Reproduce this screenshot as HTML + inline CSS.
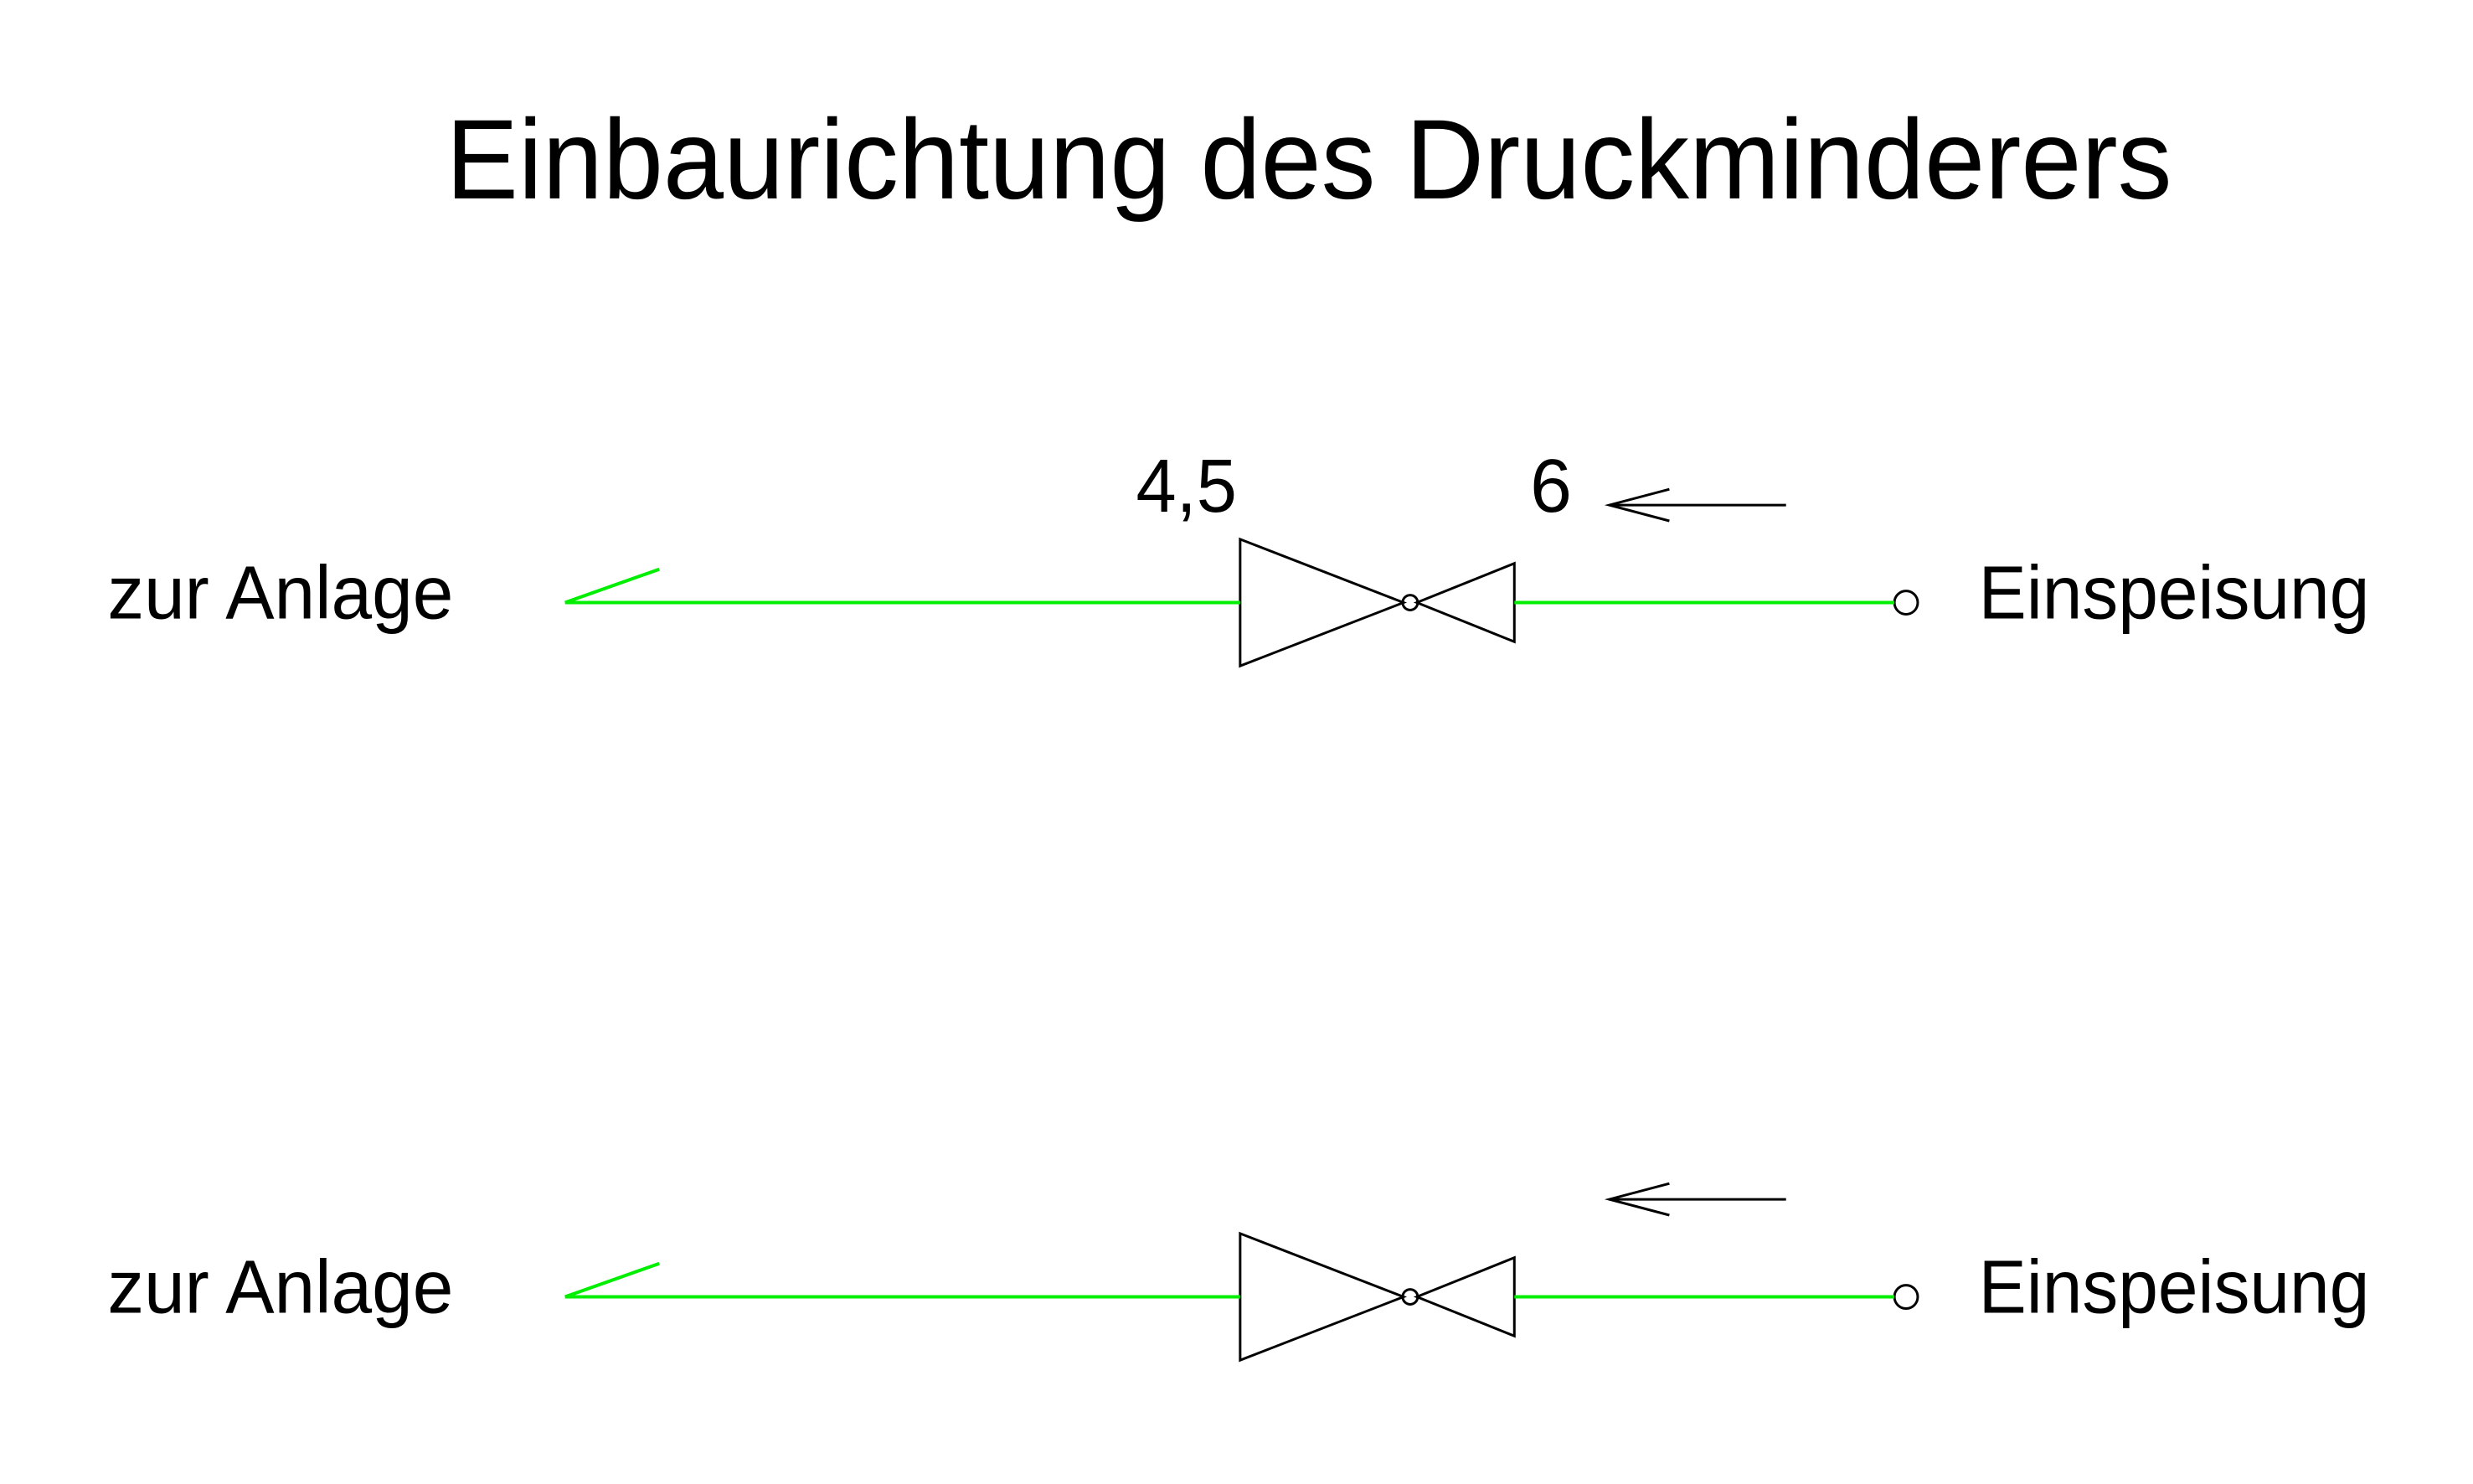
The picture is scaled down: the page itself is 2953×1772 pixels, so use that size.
<!DOCTYPE html>
<html><head><meta charset="utf-8"><style>
html,body{margin:0;padding:0;background:#fff;}
svg{display:block;}
text{font-family:"Liberation Sans",Arial,sans-serif;fill:#000;}
</style></head><body>
<svg width="2953" height="1772" viewBox="0 0 2953 1772" xmlns="http://www.w3.org/2000/svg">
<g transform="scale(0.9952)">
<text x="535" y="238" font-size="136" textLength="2071" lengthAdjust="spacingAndGlyphs">Einbaurichtung des Druckminderers</text>
<g id="row1">
<text x="129" y="742" font-size="90" textLength="415" lengthAdjust="spacingAndGlyphs">zur Anlage</text>
<text x="2374" y="742" font-size="90" textLength="469" lengthAdjust="spacingAndGlyphs">Einspeisung</text>
<text x="1363" y="614" font-size="90" textLength="121" lengthAdjust="spacingAndGlyphs">4,5</text>
<text x="1836" y="614" font-size="90">6</text>
<g stroke="#000" stroke-width="3" fill="none">
<line x1="1931" y1="606" x2="2143" y2="606"/>
<polyline points="2003,587 1931,606 2003,625"/>
<polygon points="1488,647 1488,799 1684,723"/>
<polygon points="1817,676 1817,770 1700,723"/>
<circle cx="1692" cy="723" r="9"/>
<circle cx="2287" cy="723" r="14"/>
</g>
<g stroke="#00ee00" stroke-width="4" fill="none">
<line x1="678" y1="723" x2="1488" y2="723"/>
<line x1="678" y1="723" x2="791" y2="683"/>
<line x1="1817" y1="723" x2="2273" y2="723"/>
</g>
</g>
<g transform="translate(0,833)">
<text x="129" y="742" font-size="90" textLength="415" lengthAdjust="spacingAndGlyphs">zur Anlage</text>
<text x="2374" y="742" font-size="90" textLength="469" lengthAdjust="spacingAndGlyphs">Einspeisung</text>
<g stroke="#000" stroke-width="3" fill="none">
<polygon points="1488,647 1488,799 1684,723"/>
<polygon points="1817,676 1817,770 1700,723"/>
<circle cx="1692" cy="723" r="9"/>
<circle cx="2287" cy="723" r="14"/>
</g>
<g stroke="#00ee00" stroke-width="4" fill="none">
<line x1="678" y1="723" x2="1488" y2="723"/>
<line x1="678" y1="723" x2="791" y2="683"/>
<line x1="1817" y1="723" x2="2273" y2="723"/>
</g>
</g>
<g stroke="#000" stroke-width="3" fill="none">
<line x1="1931" y1="1439" x2="2143" y2="1439"/>
<polyline points="2003,1420 1931,1439 2003,1458"/>
</g>
</g>
</svg>
</body></html>
